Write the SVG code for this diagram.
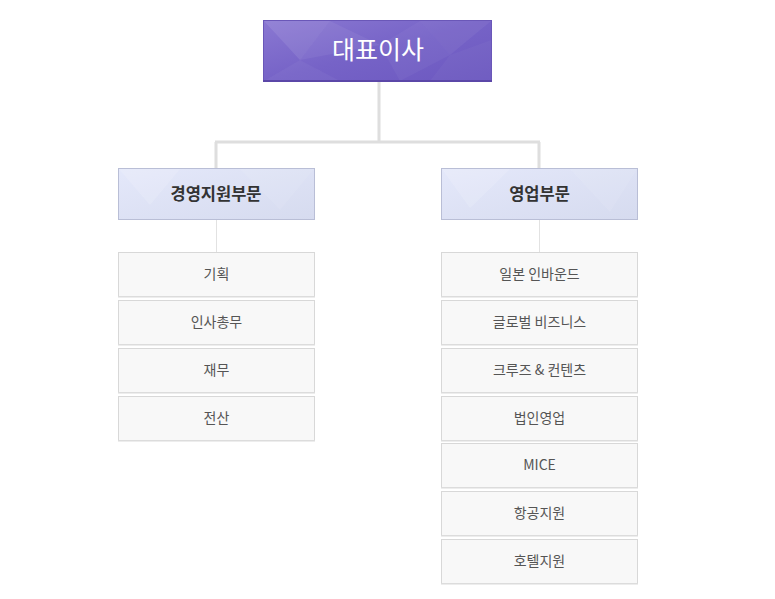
<svg xmlns="http://www.w3.org/2000/svg" width="775" height="599" viewBox="0 0 775 599">
<defs>
<linearGradient id="gTop" x1="0" y1="0" x2="1" y2="1">
<stop offset="0" stop-color="#8a78d2"/>
<stop offset="0.5" stop-color="#7663c7"/>
<stop offset="1" stop-color="#6c58c0"/>
</linearGradient>
<linearGradient id="gMid" x1="0" y1="0" x2="1" y2="1">
<stop offset="0" stop-color="#e4e8fa"/>
<stop offset="1" stop-color="#d6dbef"/>
</linearGradient>
</defs>
<style>
.sub rect.b{fill:#f8f8f8;stroke:#d8d8d8;stroke-width:1}
.sub rect.s{fill:#dcdcdc}
.sub text{font-family:"Noto Sans CJK KR","Noto Sans",sans-serif;font-size:14px;fill:#555;text-anchor:middle}
.mid text{font-family:"Noto Sans CJK KR","Noto Sans",sans-serif;font-size:16.5px;font-weight:bold;fill:#333;text-anchor:middle}
.mid rect{fill:url(#gMid);stroke:#b9bed6;stroke-width:1}
.conn .thick{stroke:#dedede;stroke-width:3;fill:none}
.conn .thin{stroke:#e2e2e2;stroke-width:1;fill:none}
.facet{fill:#ffffff}
</style>
<rect width="775" height="599" fill="#ffffff"/>
<g id="connectors" class="conn">
<path class="thick" d="M379 82 V142 M215 142 H540 M216 142 V168 M539 142 V168"/>
<path class="thin" d="M216.5 219 V252 M539.5 219 V252"/>
</g>
<g id="ceo">
<rect x="263.5" y="20.5" width="228" height="61" fill="url(#gTop)" stroke="#6a57b8"/>
<polygon class="facet" opacity="0.09" points="264,21 330,21 300,60"/>
<polygon class="facet" opacity="0.06" points="300,60 330,21 380,45"/>
<polygon class="facet" opacity="0.04" points="264,81 300,60 340,81"/>
<polygon class="facet" opacity="0.05" points="420,21 491,21 450,55"/>
<polygon class="facet" opacity="0.03" points="450,55 491,40 491,81 430,81"/>
<polygon class="facet" opacity="0.04" points="380,45 420,21 450,55 400,81"/>
<rect x="263" y="80" width="229" height="2" fill="#5b47a8"/>
<text x="378" y="59" font-family="'Noto Sans CJK KR','Noto Sans',sans-serif" font-size="25" fill="#ffffff" text-anchor="middle">대표이사</text>
</g>
<g id="dept1" class="mid">
<rect x="118.5" y="168.5" width="196" height="51"/>
<polygon class="facet" opacity="0.14" points="119,169 180,169 150,205"/>
<polygon class="facet" opacity="0.08" points="240,169 314,169 280,210"/>
<text x="216" y="200">경영지원부문</text>
</g>
<g id="dept2" class="mid">
<rect x="441.5" y="168.5" width="196" height="51"/>
<polygon class="facet" opacity="0.14" points="442,169 510,169 470,208"/>
<polygon class="facet" opacity="0.08" points="570,169 637,169 610,212"/>
<text x="539.5" y="200">영업부문</text>
</g>
<g id="d1-1" class="sub"><rect class="b" x="118.5" y="252.5" width="196" height="44"/><rect class="s" x="118" y="296" width="197" height="1.5"/><text x="216.5" y="279">기획</text></g>
<g id="d1-2" class="sub"><rect class="b" x="118.5" y="300.5" width="196" height="44"/><rect class="s" x="118" y="344" width="197" height="1.5"/><text x="216.5" y="327">인사총무</text></g>
<g id="d1-3" class="sub"><rect class="b" x="118.5" y="348.5" width="196" height="44"/><rect class="s" x="118" y="392" width="197" height="1.5"/><text x="216.5" y="375">재무</text></g>
<g id="d1-4" class="sub"><rect class="b" x="118.5" y="396.5" width="196" height="44"/><rect class="s" x="118" y="440" width="197" height="1.5"/><text x="216.5" y="423">전산</text></g>
<g id="d2-1" class="sub"><rect class="b" x="441.5" y="252.5" width="196" height="44"/><rect class="s" x="441" y="296" width="197" height="1.5"/><text x="539.5" y="279">일본 인바운드</text></g>
<g id="d2-2" class="sub"><rect class="b" x="441.5" y="300.5" width="196" height="44"/><rect class="s" x="441" y="344" width="197" height="1.5"/><text x="539.5" y="327">글로벌 비즈니스</text></g>
<g id="d2-3" class="sub"><rect class="b" x="441.5" y="348.5" width="196" height="44"/><rect class="s" x="441" y="392" width="197" height="1.5"/><text x="539.5" y="375">크루즈 &amp; 컨텐츠</text></g>
<g id="d2-4" class="sub"><rect class="b" x="441.5" y="396.5" width="196" height="44"/><rect class="s" x="441" y="440" width="197" height="1.5"/><text x="539.5" y="423">법인영업</text></g>
<g id="d2-5" class="sub"><rect class="b" x="441.5" y="443.5" width="196" height="44"/><rect class="s" x="441" y="487" width="197" height="1.5"/><text x="539.5" y="470">MICE</text></g>
<g id="d2-6" class="sub"><rect class="b" x="441.5" y="491.5" width="196" height="44"/><rect class="s" x="441" y="535" width="197" height="1.5"/><text x="539.5" y="518">항공지원</text></g>
<g id="d2-7" class="sub"><rect class="b" x="441.5" y="539.5" width="196" height="44"/><rect class="s" x="441" y="583" width="197" height="1.5"/><text x="539.5" y="566">호텔지원</text></g>
</svg>
